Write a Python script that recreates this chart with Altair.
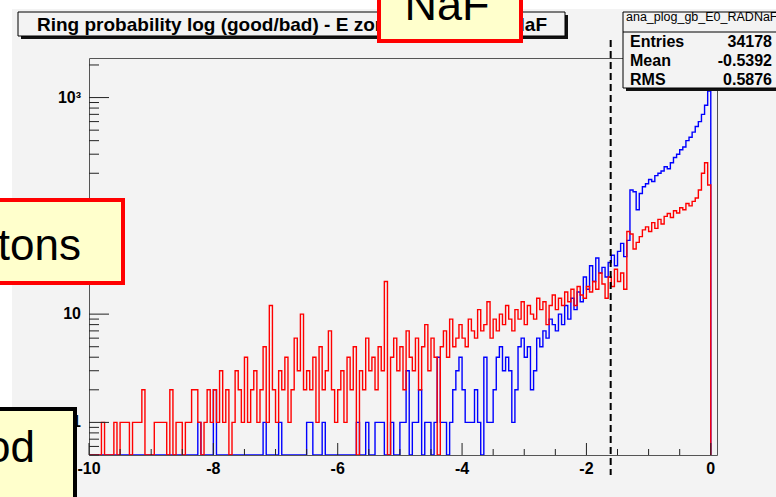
import altair as alt
import pandas as pd

# ---------------- data ----------------
BIN_W = 0.05
X_MIN = -10.0

red_counts = [
    0, 0, 0, 0, 1, 0, 0, 0, 1, 0,
    1, 1, 1, 0, 1, 1, 1, 2, 0, 0,
    0, 1, 1, 1, 1, 0, 2, 0, 1, 1,
    0, 1, 1, 2, 2, 1, 0, 1, 2, 1,
    2, 1, 3, 1, 2, 0, 1, 3, 2, 1,
    4, 1, 2, 3, 1, 2, 5, 1, 12, 2,
    1, 3, 2, 4, 1, 2, 6, 3, 10, 2,
    3, 2, 4, 1, 5, 2, 3, 7, 2, 1,
    2, 3, 1, 4, 2, 5, 0, 3, 2, 6,
    3, 4, 2, 5, 3, 20, 0, 4, 6, 3,
    5, 2, 7, 4, 3, 6, 2, 5, 8, 3,
    6, 4, 0, 5, 7, 4, 9, 5, 6, 8,
    6, 5, 9, 7, 6, 11, 7, 8, 13, 6,
    9, 7, 10, 8, 12, 9, 7, 11, 9, 13,
    8, 12, 10, 9, 14, 11, 13, 8, 12, 15,
    11, 14, 12, 16, 13, 17, 12, 18, 15, 14,
    18, 16, 20, 17, 24, 19, 14, 22, 18, 26,
    20, 24, 17, 58, 55, 40, 46, 52, 60, 64,
    58, 70, 62, 75, 68, 80, 85, 78, 90, 86,
    96, 92, 105, 100, 110, 118, 140, 200, 250, 156,
]

blue_counts = [
    0, 0, 0, 0, 0, 0, 0, 0, 0, 0,
    0, 0, 0, 0, 0, 0, 0, 0, 0, 0,
    0, 0, 0, 0, 0, 0, 0, 0, 0, 0,
    0, 0, 0, 0, 0, 1, 0, 0, 0, 0,
    2, 0, 0, 0, 0, 0, 0, 0, 0, 0,
    0, 0, 0, 0, 0, 0, 1, 0, 0, 0,
    0, 1, 0, 0, 0, 0, 0, 0, 0, 0,
    1, 1, 0, 0, 0, 1, 0, 0, 0, 0,
    0, 0, 0, 0, 0, 0, 1, 0, 0, 1,
    0, 0, 1, 1, 1, 0, 0, 1, 0, 0,
    1, 1, 3, 0, 1, 1, 2, 0, 1, 1,
    0, 1, 4, 1, 1, 0, 1, 2, 3, 4,
    2, 1, 1, 1, 2, 1, 0, 4, 1, 1,
    2, 4, 5, 3, 4, 3, 1, 2, 5, 6,
    4, 5, 2, 3, 6, 5, 7, 6, 9, 8,
    7, 10, 8, 12, 9, 14, 11, 16, 13, 22,
    17, 28, 20, 33, 24, 27, 22, 30, 35, 28,
    38, 45, 34, 48, 140, 135, 92, 130, 150, 160,
    175, 168, 190, 200, 210, 230, 220, 250, 280, 300,
    330, 350, 400, 430, 480, 540, 600, 700, 850, 1150,
]

x_major = [-10, -8, -6, -4, -2, 0]
x_labels = ["-10", "-8", "-6", "-4", "-2", "0"]
x_minor = [-9.5, -9, -8.5, -7.5, -7, -6.5, -5.5, -5, -4.5, -3.5, -3, -2.5, -1.5, -1, -0.5]
y_major = [1, 10, 100, 1000]
y_labels = ["1", "10", "10²", "10³"]
y_minor = [0.5, 0.6, 0.7, 0.8, 0.9,
           2, 3, 4, 5, 6, 7, 8, 9,
           20, 30, 40, 50, 60, 70, 80, 90,
           200, 300, 400, 500, 600, 700, 800, 900, 2000]
cut_value = -1.61

title_left = "Ring probability log (good/bad) - E zone 0 -"
title_right = "RICH NaF"
stats_name = "ana_plog_gb_E0_RADNaF"
stats_rows = [("Entries", "34178"), ("Mean", "-0.5392"), ("RMS", "0.5876")]

# ---------------- chart ----------------
W, H = 628, 397
FONT = "Liberation Sans"
CANVAS = "#F3F3F3"


def hist_df(counts, name):
    xs = [X_MIN + BIN_W * i for i in range(len(counts))] + [0.0]
    cs = list(counts) + [0]
    return pd.DataFrame({"x": xs, "c": cs, "s": name})


xscale = alt.Scale(domain=[-10, 0.1], nice=False, zero=False)
yscale = alt.Scale(type="log", domain=[0.5, 2320], nice=False)

one = alt.Data(values=[{"a": 1}])


def box(x, x2, y, y2, fill, stroke=None, sw=0):
    kw = dict(fill=fill)
    if stroke:
        kw.update(stroke=stroke, strokeWidth=sw)
    return alt.Chart(one).mark_rect(**kw).encode(
        x=alt.value(x), x2=alt.value(x2), y=alt.value(y), y2=alt.value(y2))


def txt(s, x, y, size, weight="normal", align="left", font=FONT):
    return alt.Chart(one).mark_text(
        text=s, align=align, baseline="alphabetic", font=font,
        fontSize=size, fontWeight=weight, color="black"
    ).encode(x=alt.value(x), y=alt.value(y))


# white margins outside the ROOT canvas
white_left = box(-89, -77, -58, 439, "white")
white_top = box(-89, 687, -58, -49, "white")


def hist_layer(counts, name, color):
    df = hist_df(counts, name)
    return alt.Chart(df).transform_calculate(
        cy="max(datum.c, 0.5)"
    ).mark_line(interpolate="step-after", color=color, strokeWidth=1.4, clip=True).encode(
        x=alt.X("x:Q", scale=xscale, axis=None),
        y=alt.Y("cy:Q", scale=yscale, axis=None))


blue = hist_layer(blue_counts, "good", "#0000FF")
red = hist_layer(red_counts, "bad", "#FF0000")

xt_major = alt.Chart(pd.DataFrame({"x": x_major})).mark_rule(color="#222", strokeWidth=1).encode(
    x=alt.X("x:Q", scale=xscale, axis=None), y=alt.value(H), y2=alt.value(H - 12))
xt_minor = alt.Chart(pd.DataFrame({"x": x_minor})).mark_rule(color="#222", strokeWidth=1).encode(
    x=alt.X("x:Q", scale=xscale, axis=None), y=alt.value(H), y2=alt.value(H - 6))
yt_major = alt.Chart(pd.DataFrame({"y": y_major})).mark_rule(color="#222", strokeWidth=1).encode(
    y=alt.Y("y:Q", scale=yscale, axis=None), x=alt.value(0), x2=alt.value(20))
yt_minor = alt.Chart(pd.DataFrame({"y": y_minor})).mark_rule(color="#222", strokeWidth=1).encode(
    y=alt.Y("y:Q", scale=yscale, axis=None), x=alt.value(0), x2=alt.value(10))

x_lab = alt.Chart(pd.DataFrame({"x": x_major, "t": x_labels})).mark_text(
    font=FONT, fontWeight="bold", fontSize=16, baseline="top", align="center", color="black"
).encode(x=alt.X("x:Q", scale=xscale, axis=None), y=alt.value(H + 6), text="t:N")
y_lab = alt.Chart(pd.DataFrame({"y": y_major, "t": y_labels})).mark_text(
    font=FONT, fontWeight="bold", fontSize=16, baseline="middle", align="right", color="black"
).encode(y=alt.Y("y:Q", scale=yscale, axis=None), x=alt.value(-8), text="t:N")

cut = alt.Chart(pd.DataFrame({"x": [cut_value]})).mark_rule(
    color="black", strokeWidth=2, strokeDash=[7, 4]).encode(
    x=alt.X("x:Q", scale=xscale, axis=None), y=alt.value(-18), y2=alt.value(417))

# title pave
title_shadow = box(-68, 479, -43, -19, "#111")
title_box = box(-71, 476, -46, -22, CANVAS, "black", 1)
title_t1 = txt(title_left, -52, -27, 19, "bold")
title_t2 = txt(title_right, 458, -27, 19, "bold", align="right")

# stats pave
st_shadow = box(537, 700, -43, 33, "#111")
st_box = box(534, 700, -46, 30, CANVAS, "black", 1)
st_sep = alt.Chart(one).mark_rule(color="black", strokeWidth=1).encode(
    x=alt.value(534), x2=alt.value(700), y=alt.value(-26))
st_name = txt(stats_name, 537, -37, 12.5)
st_layers = [st_shadow, st_box, st_sep, st_name]
for k, (lab, val) in enumerate(stats_rows):
    yb = -11 + 19 * k
    st_layers.append(txt(lab, 541, yb, 16, "bold"))
    st_layers.append(txt(val, 683, yb, 16, "bold", align="right"))

# slide overlay call-outs
naf_box = box(290, 432, -80, -17, "#FFFFCC", "#FF0000", 4)
naf_txt = txt("NaF", 358, -38, 45, align="center")
tons_box = box(-120, 34, 142, 225, "#FFFFCC", "#FF0000", 4)
tons_txt = txt("tons", -8, 202, 44, align="right")
od_box = box(-120, -14, 351, 500, "#FFFFCC", "black", 4)
od_txt = txt("od", -54, 404, 44, align="right")

chart = alt.layer(
    white_left, white_top,
    blue, red,
    xt_major, xt_minor, yt_major, yt_minor,
    x_lab, y_lab,
    cut,
    title_shadow, title_box, title_t1, title_t2,
    *st_layers,
    naf_box, naf_txt, tons_box, tons_txt, od_box, od_txt,
).properties(
    width=W, height=H, background=CANVAS,
    padding={"left": 89, "top": 58, "right": 59, "bottom": 42},
    autosize="none",
).configure_view(stroke="#555", strokeWidth=1)

chart.save("out.html", embed_options={"renderer": "svg", "actions": False})
